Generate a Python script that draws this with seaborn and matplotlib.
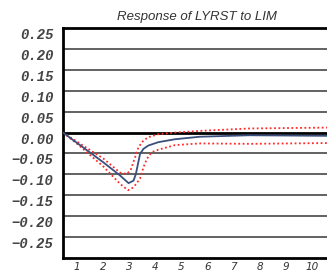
import matplotlib
matplotlib.use("Agg")
import matplotlib.pyplot as plt
import seaborn as sns
import pandas as pd

# Impulse response
resp_x = [0.46, 1, 2, 2.65, 2.97, 3.16, 3.25, 3.33, 3.41, 3.54, 3.73, 4.11, 4.75, 5.7, 7.6, 10.8]
resp_y = [0, -0.025, -0.071, -0.103, -0.121, -0.115, -0.099, -0.075, -0.051, -0.039, -0.031,
          -0.023, -0.016, -0.010, -0.0065, -0.008]

upper_x = [0.46, 1, 2, 2.65, 2.9, 3.05, 3.22, 3.35, 3.54, 3.73, 4.11, 4.75, 5.7, 7.6, 10.8]
upper_y = [0, -0.022, -0.062, -0.096, -0.099, -0.090, -0.059, -0.035, -0.019, -0.011,
           -0.004, 0.0, 0.004, 0.0097, 0.012]

lower_x = [0.46, 1, 2, 2.65, 2.95, 3.16, 3.41, 3.54, 3.67, 3.86, 4.11, 4.75, 5.7, 7.6, 10.8]
lower_y = [0, -0.027, -0.081, -0.123, -0.138, -0.131, -0.110, -0.083, -0.063, -0.047,
           -0.041, -0.030, -0.026, -0.027, -0.025]

x_ticks = [1, 2, 3, 4, 5, 6, 7, 8, 9, 10]
y_ticks = [-0.25, -0.20, -0.15, -0.10, -0.05, 0.00, 0.05, 0.10, 0.15, 0.20, 0.25]
title = "Response of LYRST to LIM"

sns.set_theme(style="white")

df = pd.concat([
    pd.DataFrame({"x": resp_x, "y": resp_y, "s": "resp"}),
    pd.DataFrame({"x": upper_x, "y": upper_y, "s": "upper"}),
    pd.DataFrame({"x": lower_x, "y": lower_y, "s": "lower"}),
])

fig = plt.figure(figsize=(3.27, 2.71), dpi=100)
ax = fig.add_axes([63 / 327, 1 - 258 / 271, 0.826, (258 - 28) / 271])

ax.set_xlim(0.46, 10.8)
ax.set_ylim(-0.30, 0.25)

for yv in y_ticks:
    if abs(yv) < 1e-9:
        continue
    ax.axhline(yv, color="#555555", lw=1.3, zorder=1)
ax.axhline(0, color="black", lw=2.0, zorder=1)

sns.lineplot(data=df[df.s == "resp"], x="x", y="y", ax=ax, color="#3b4f7c", lw=1.3,
             estimator=None, sort=False, zorder=3)
for s in ["upper", "lower"]:
    sns.lineplot(data=df[df.s == s], x="x", y="y", ax=ax, color="#ff2a2a", lw=1.3,
                 estimator=None, sort=False, zorder=2, linestyle=(0, (1, 1.4)))

ax.set_xlabel("")
ax.set_ylabel("")
ax.set_xticks(x_ticks)
ax.set_xticklabels([str(v) for v in x_ticks], fontfamily="DejaVu Sans", fontstyle="italic",
                   fontsize=7.5, color="#333333")
ax.set_yticks(y_ticks)
ax.set_yticklabels([f"{v:.2f}".replace("-", "\u2212") for v in y_ticks],
                   fontfamily="Liberation Mono", fontstyle="italic", fontweight="bold",
                   fontsize=10, color="#444444", va="top")
ax.tick_params(axis="both", length=0)
ax.tick_params(axis="y", pad=7)
ax.tick_params(axis="x", pad=3)

for side in ["left", "top", "bottom"]:
    ax.spines[side].set_visible(True)
    ax.spines[side].set_color("black")
    ax.spines[side].set_linewidth(2)
ax.spines["right"].set_visible(False)

fig.text(197 / 327, 1 - 17 / 271, title, ha="center", va="center",
         fontfamily="Liberation Sans", fontstyle="italic", fontsize=9.5, color="#333333")

fig.savefig("out.png", dpi=100)
